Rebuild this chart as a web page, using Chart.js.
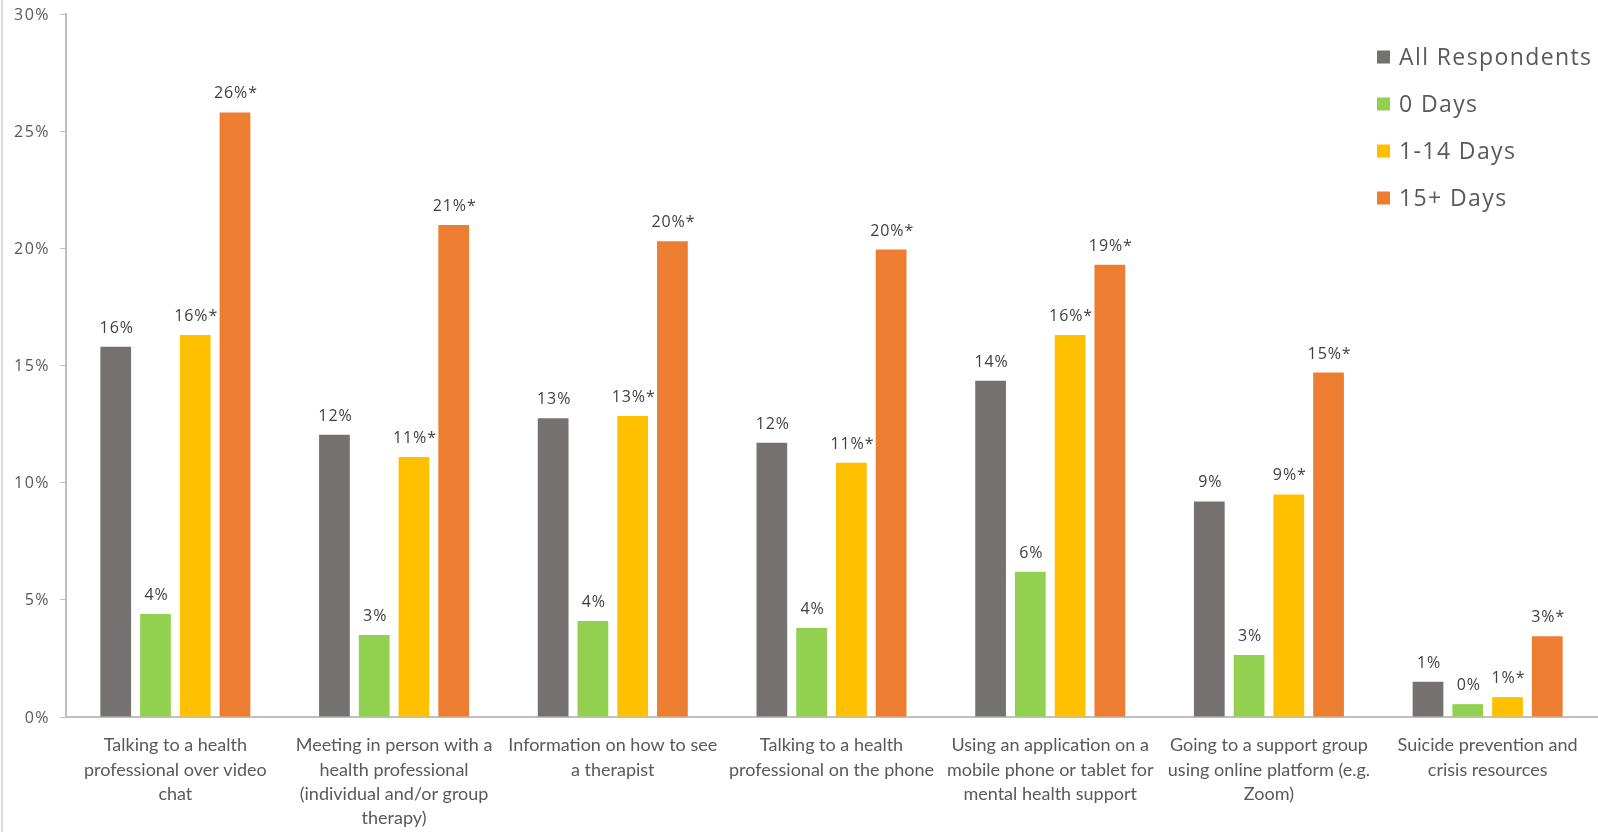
<!DOCTYPE html>
<html>
<head>
<meta charset="utf-8">
<script src="https://cdn.jsdelivr.net/npm/chart.js@4"></script>
<style>
  html, body { margin: 0; padding: 0; background: #fff; }
  #wrap { position: relative; width: 1598px; height: 832px; }
</style>
</head>
<body>
<div id="wrap"><canvas id="usoChart" width="1598" height="832"></canvas></div>
<script>
// categorias (rótulos do eixo x, já quebrados em linhas)
const categories = [
  ['Talking to a health', 'professional over video', 'chat'],
  ['Meeting in person with a', 'health professional', '(individual and/or group', 'therapy)'],
  ['Information on how to see', 'a therapist'],
  ['Talking to a health', 'professional on the phone'],
  ['Using an application on a', 'mobile phone or tablet for', 'mental health support'],
  ['Going to a support group', 'using online platform (e.g.', 'Zoom)'],
  ['Suicide prevention and', 'crisis resources']
];

const seriesNames = ['All Respondents', '0 Days', '1-14 Days', '15+ Days'];

// valores (%)
const allRespondents = [15.8, 12.05, 12.75, 11.7, 14.35, 9.2, 1.5];
const zeroDays       = [4.4, 3.5, 4.1, 3.8, 6.2, 2.65, 0.55];
const oneTo14Days    = [16.3, 11.1, 12.85, 10.85, 16.3, 9.5, 0.85];
const fifteenPlus    = [25.8, 21.0, 20.3, 19.95, 19.3, 14.7, 3.45];

// rótulos de dados como aparecem na figura
const labelsAll     = ['16%', '12%', '13%', '12%', '14%', '9%', '1%'];
const labelsZero    = ['4%', '3%', '4%', '4%', '6%', '3%', '0%'];
const labels1to14   = ['16%*', '11%*', '13%*', '11%*', '16%*', '9%*', '1%*'];
const labels15plus  = ['26%*', '21%*', '20%*', '20%*', '19%*', '15%*', '3%*'];

const yTicks = [0, 5, 10, 15, 20, 25, 30];

const colors = ['#767171', '#92D050', '#FFC000', '#ED7D31'];
const textColor = '#595959';
const axisColor = '#BFBFBF';

const seriesValues = [allRespondents, zeroDays, oneTo14Days, fifteenPlus];
const seriesLabels = [labelsAll, labelsZero, labels1to14, labels15plus];

// plugin: linha cinza na borda esquerda, rótulos do eixo y, rótulos de dados e legenda
const extrasPlugin = {
  id: 'extras',
  beforeDraw(chart) {
    const c = chart.ctx;
    c.save();
    c.fillStyle = '#D9D9D9';
    c.fillRect(1, 0, 2, chart.height);
    c.restore();
  },
  afterDraw(chart) {
    const c = chart.ctx;
    const yScale = chart.scales.y;

    c.save();
    c.fillStyle = textColor;
    c.font = '16px "Open Sans"';
    c.letterSpacing = '1.5px';
    c.textAlign = 'right';
    c.textBaseline = 'middle';
    yTicks.forEach(v => {
      c.fillText(v + '%', 50, yScale.getPixelForValue(v) + 1);
    });

    // rótulos de dados
    c.font = '16px "Open Sans"';
    c.letterSpacing = '0.9px';
    c.textAlign = 'center';
    c.textBaseline = 'alphabetic';
    c.fillStyle = '#404040';
    chart.data.datasets.forEach((ds, i) => {
      const meta = chart.getDatasetMeta(i);
      meta.data.forEach((bar, j) => {
        c.fillText(seriesLabels[i][j], bar.x + 1, bar.y - 14);
      });
    });

    // legenda
    c.font = '23px "Open Sans"';
    c.letterSpacing = '1.4px';
    c.textAlign = 'left';
    c.textBaseline = 'middle';
    const rows = [57, 104, 151, 198];
    chart.data.datasets.forEach((ds, i) => {
      c.fillStyle = ds.backgroundColor;
      c.fillRect(1377, rows[i] - 6.5, 13, 13);
      c.fillStyle = textColor;
      c.fillText(ds.label, 1399, rows[i] + 1);
    });
    c.restore();
  }
};

new Chart(document.getElementById('usoChart'), {
  type: 'bar',
  data: {
    labels: categories,
    datasets: seriesNames.map((name, i) => ({
      label: name,
      data: seriesValues[i],
      backgroundColor: colors[i],
      borderWidth: 0,
      categoryPercentage: 0.727,
      barPercentage: 0.773
    }))
  },
  options: {
    responsive: false,
    animation: false,
    devicePixelRatio: 1,
    layout: { padding: { left: 0, right: 1, top: 14, bottom: 0 } },
    plugins: {
      legend: { display: false },
      tooltip: { enabled: false }
    },
    scales: {
      x: {
        grid: { display: false, drawTicks: false },
        border: { display: true, color: axisColor, width: 2 },
        ticks: {
          color: textColor,
          font: { family: 'Lato', size: 18, lineHeight: 1.36 },
          padding: 16,
          maxRotation: 0,
          autoSkip: false
        },
        afterFit(scale) { scale.height = 115; }
      },
      y: {
        min: 0,
        max: 30,
        ticks: { stepSize: 5, display: false },
        grid: { display: true, drawOnChartArea: false, drawTicks: true, tickLength: 6, color: axisColor },
        border: { display: true, color: axisColor, width: 2 },
        afterFit(scale) { scale.width = 66; }
      }
    }
  },
  plugins: [extrasPlugin]
});
</script>
</body>
</html>
